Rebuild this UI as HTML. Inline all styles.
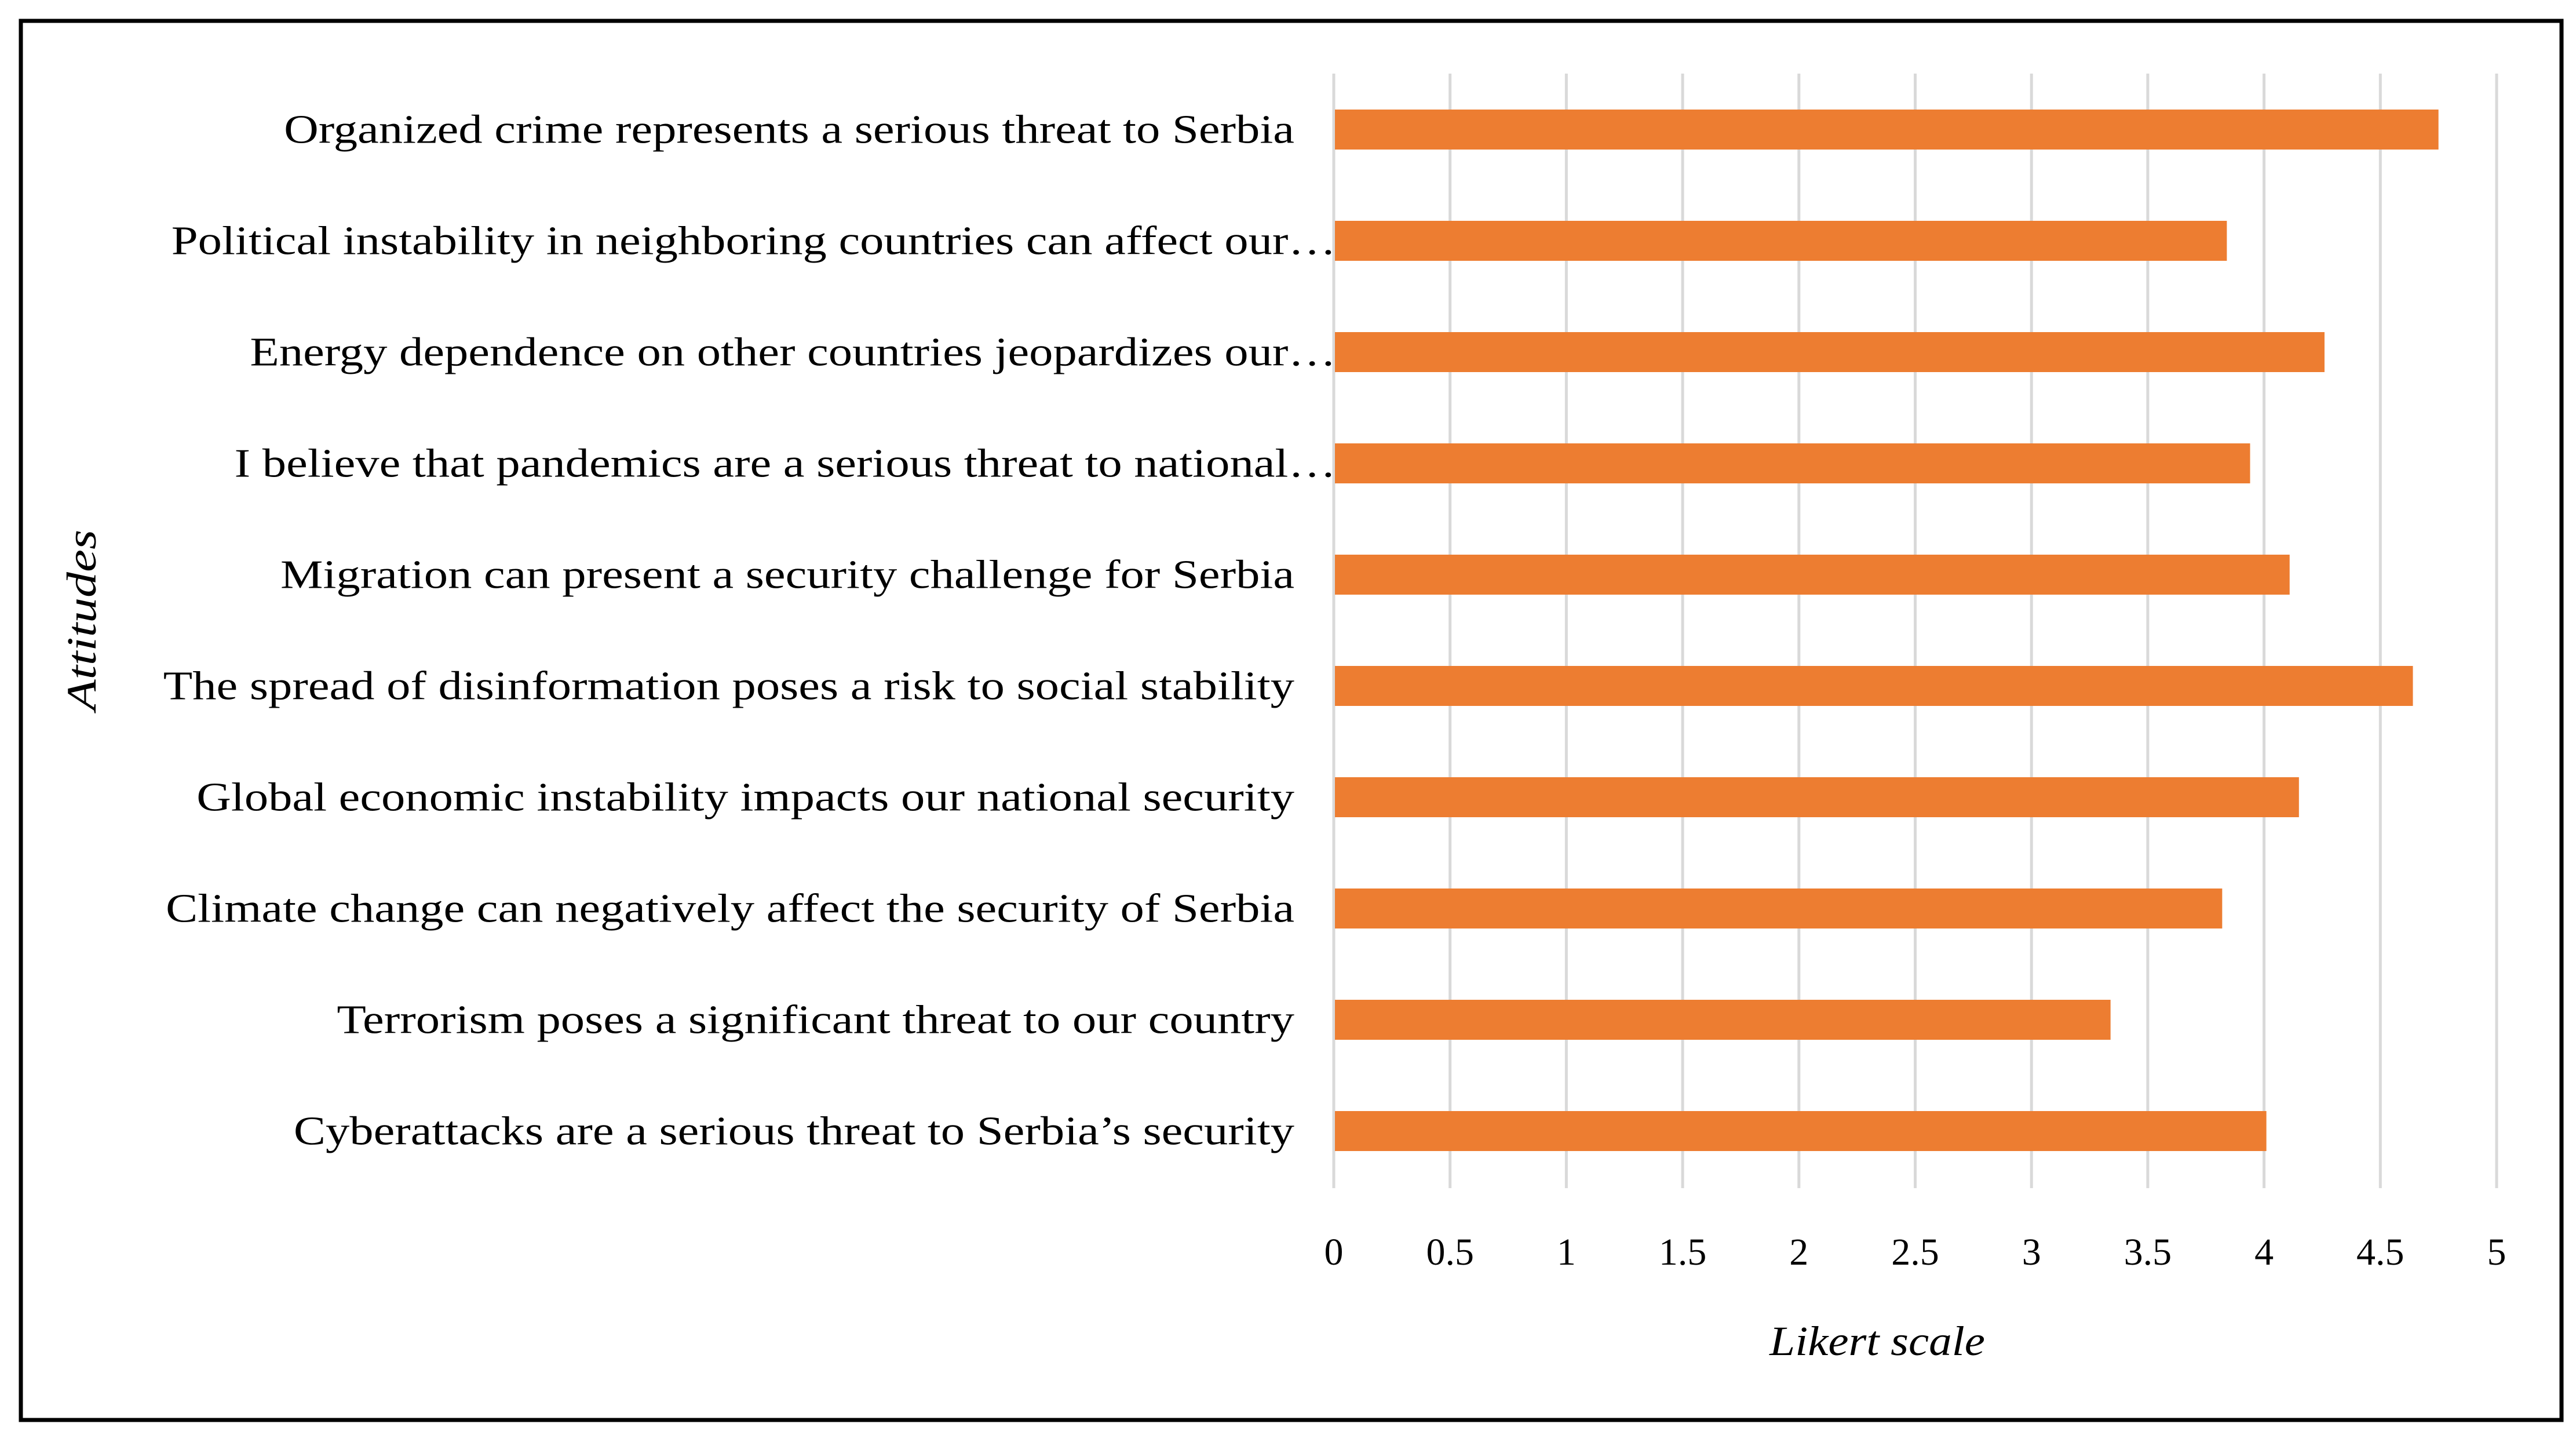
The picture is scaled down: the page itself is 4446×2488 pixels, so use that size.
<!DOCTYPE html>
<html><head><meta charset="utf-8"><style>
html,body{margin:0;padding:0;background:#fff;}
svg{display:block;}
text{font-family:"Liberation Serif",serif;fill:#000;}
</style></head><body>
<svg id="chart" width="4446" height="2488" viewBox="0 0 4446 2488" xmlns="http://www.w3.org/2000/svg">
<rect x="36" y="36" width="4385" height="2414" fill="#fff" stroke="#000" stroke-width="7"/>
<g id="grid"></g><g id="bars"></g><g id="ylabels"></g><g id="xlabels"></g>
<text id="xt" x="3240" y="2338" font-size="72" font-style="italic" text-anchor="middle">Likert scale</text>
<text id="yt" x="0" y="0" font-size="72" font-style="italic" text-anchor="middle" transform="translate(165,1070) rotate(-90)">Attitudes</text>
</svg>
<script>
const categories=["Organized crime represents a serious threat to Serbia","Political instability in neighboring countries can affect our…","Energy dependence on other countries jeopardizes our…","I believe that pandemics are a serious threat to national…","Migration can present a security challenge for Serbia","The spread of disinformation poses a risk to social stability","Global economic instability impacts our national security","Climate change can negatively affect the security of Serbia","Terrorism poses a significant threat to our country","Cyberattacks are a serious threat to Serbia’s security"];
const values=[4.75,3.84,4.26,3.94,4.11,4.64,4.15,3.82,3.34,4.01];
const ticks=[0,0.5,1,1.5,2,2.5,3,3.5,4,4.5,5];
const tickLabels=["0","0.5","1","1.5","2","2.5","3","3.5","4","4.5","5"];
const NS="http://www.w3.org/2000/svg";
const x0=2302,x1=4309,vmax=5,top0=127,bot=2050,y0=223.5,step=192,bh=69;
const xs=v=>x0+(x1-x0)*v/vmax;
const ys=i=>y0+i*step;
function mk(tag,attrs,parent){const e=document.createElementNS(NS,tag);for(const k in attrs)e.setAttribute(k,attrs[k]);document.getElementById(parent).appendChild(e);return e;}
function stretch(el,f){const w=el.getComputedTextLength();el.setAttribute('textLength',w*f);el.setAttribute('lengthAdjust','spacingAndGlyphs');}
ticks.forEach((t,i)=>{
 const l=mk('line',{x1:xs(t),x2:xs(t),y1:top0,y2:bot,stroke:'#d9d9d9','stroke-width':5},'grid');
 
 
 const tx=mk('text',{x:xs(t),y:2182,'font-size':66,'text-anchor':'middle'},'xlabels');
 tx.textContent=tickLabels[i];
 
 
});
categories.forEach((c,i)=>{
 const r=mk('rect',{x:x0+2,y:ys(i)-bh/2,width:xs(values[i])-x0-2,height:bh,fill:'#ED7D31'},'bars');
 
 
 const trunc=c.endsWith('…');
 const tx=mk('text',{x:trunc?2306:2234,y:ys(i)+23,'font-size':70,'text-anchor':'end'},'ylabels');
 tx.textContent=c;
 
 
 stretch(tx,1.18);
});
stretch(document.getElementById('xt'),1.1);
stretch(document.getElementById('yt'),1.22);
</script>
</body></html>
